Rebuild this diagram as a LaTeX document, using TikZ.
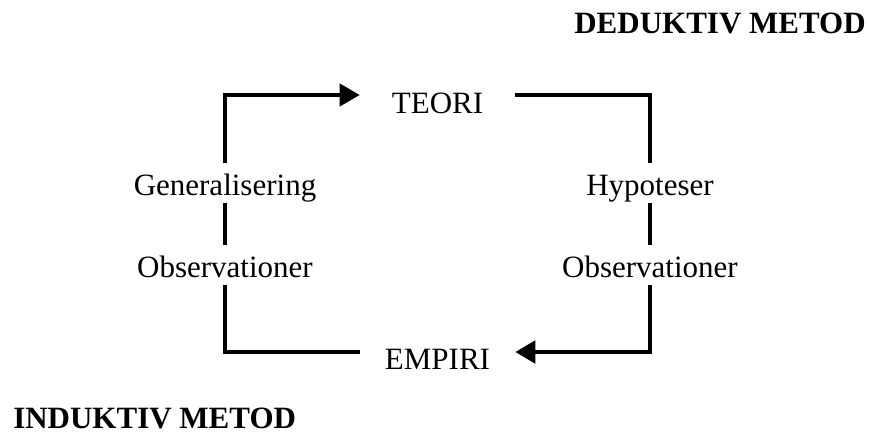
\documentclass[tikz,border=0pt]{standalone}
\usepackage{fontspec}
\setmainfont{Liberation Serif}
\usetikzlibrary{arrows.meta}
\begin{document}
\begin{tikzpicture}[x=0.75pt,y=-0.75pt,
  lbl/.style={font=\fontsize{23.25pt}{28pt}\selectfont, inner sep=0pt, anchor=base},
  stage/.style={lbl, minimum width=116.25pt},
  cue/.style={lbl, text height=24pt, text depth=6pt},
  title/.style={font=\fontsize{23.25pt}{28pt}\selectfont\bfseries, inner sep=0pt},
  indlink/.style={line width=3.1pt},
  dedlink/.style={line width=3.7pt},
  tip/.style={-{Triangle[length=15pt,width=16.5pt]}}
]
\useasboundingbox (0,0) rectangle (871,439);

% headings
\node[title, anchor=base east] (ded) at (866,33) {DEDUKTIV METOD};
\node[title, anchor=base west] (ind) at (13,428) {INDUKTIV METOD};

% the two poles
\node[stage] (teori) at (437.5,113) {TEORI};
\node[stage] (empiri) at (437.5,369) {EMPIRI};

% steps along each side
\node[cue] (gen) at (225,195) {Generalisering};
\node[cue] (obsI) at (225,277) {Observationer};
\node[cue] (hyp) at (650,195) {Hypoteser};
\node[cue] (obsD) at (650,277) {Observationer};

% corners of the loop
\coordinate (tl) at (225,95);
\coordinate (tr) at (650,95);
\coordinate (bl) at (225,352);
\coordinate (br) at (650,352);

% inductive path: empiri -> observations -> generalisation -> theory
\draw[indlink] (empiri.west |- bl) -- (bl) -- (obsI.south);
\draw[indlink] (obsI.north) -- (gen.south);
\draw[indlink, tip] (gen.north) -- (tl) -- (teori.west |- tl);

% deductive path: theory -> hypotheses -> observations -> empiri
\draw[dedlink] (teori.east |- tr) -- (tr) -- (hyp.north);
\draw[dedlink] (hyp.south) -- (obsD.north);
\draw[dedlink, tip] (obsD.south) -- (br) -- (empiri.east |- br);
\end{tikzpicture}
\end{document}
